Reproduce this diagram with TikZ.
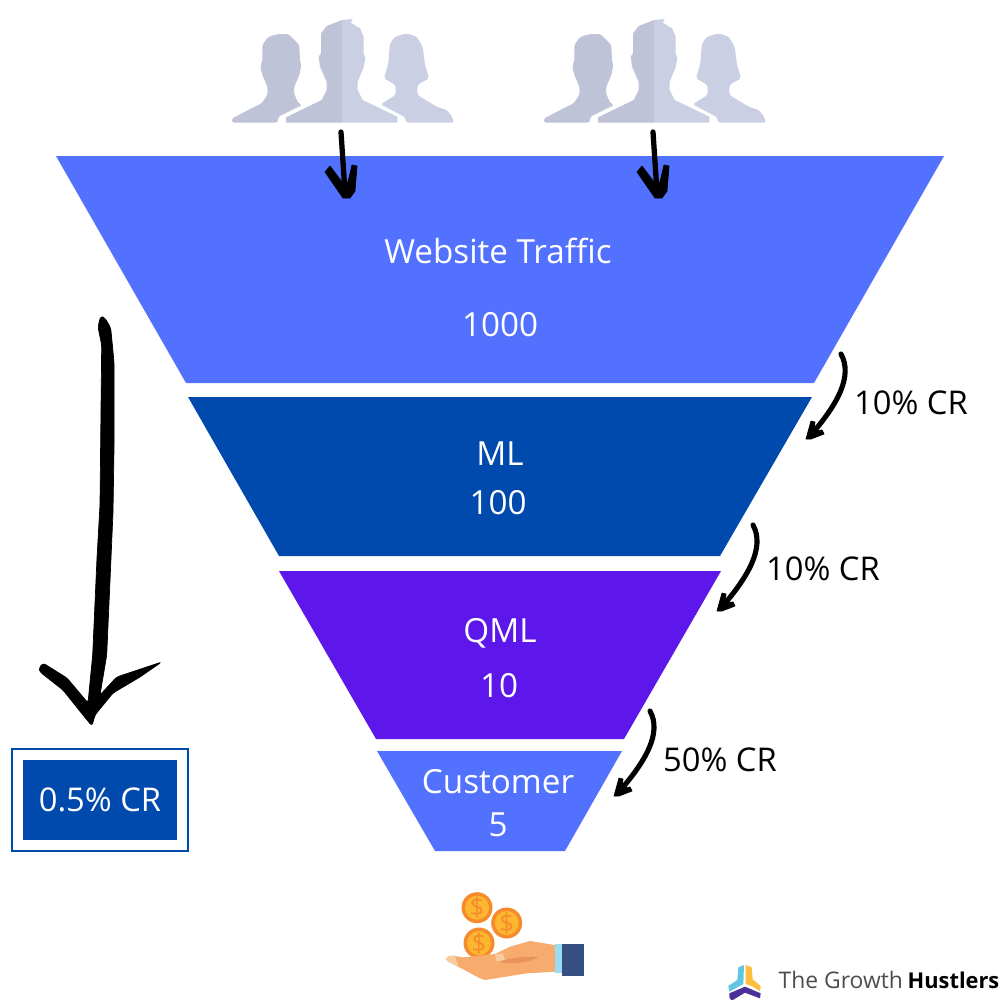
\documentclass[tikz,border=0pt]{standalone}
\usepackage{fontspec}
\usetikzlibrary{calc}
\setmainfont{Open Sans}
\definecolor{fblue}{HTML}{5271FF}
\definecolor{fnavy}{HTML}{004AAD}
\definecolor{fviolet}{HTML}{5E17EB}
\definecolor{pdark}{HTML}{BFC3D8}
\definecolor{plight}{HTML}{CACFE4}
\definecolor{coinO}{HTML}{F58B2C}
\definecolor{coinI}{HTML}{FDB62F}
\definecolor{skin}{HTML}{F7AC6E}
\definecolor{skinD}{HTML}{E8935A}
\definecolor{skinL}{HTML}{F9CBA0}
\definecolor{cuff}{HTML}{9ADCF2}
\definecolor{sleeve}{HTML}{364F82}
\definecolor{logoC}{HTML}{5FC6E0}
\definecolor{logoG}{HTML}{FDBE3C}
\definecolor{logoP}{HTML}{4A2F9A}
\definecolor{logoT}{HTML}{4D4D4D}
\tikzset{
  lab/.style={text=white,font=\fontsize{9.45}{11}\selectfont,inner sep=0pt},
  crlab/.style={text=black,font=\fontsize{9.3}{11}\selectfont,inner sep=0pt},
  curvearrow/.style={draw=black,line width=1.45pt,line cap=round},
  shortarrow/.style={draw=black,line width=1.5pt,line cap=round},
  headfill/.style={fill=black,draw=black,line width=0.2pt,line join=round},
  crowd/.pic={
    \begin{scope}[x=0.01cm/3,y=-0.01cm/3,rounded corners=0.7pt]
    \fill[pdark] (36,338)--(36,325)--(125,280)--(142,255)--(143,232)--(125,190)--(121,165)--(127,155)--(127,105)--(145,80)--(175,72)--(205,72)--(238,105)--(240,155)--(244,165)--(238,195)--(222,232)--(222,250)--(235,280)--(247,285)--(175,320)--(173,338)--cycle;
    \fill[pdark,sharp corners] (198,338)--(198,322)--(305,270)--(320,240)--(320,215)--(300,170)--(296,140)--(303,130)--(303,70)--(320,48)--(366,30)--(366,338)--cycle;
    \fill[plight,sharp corners] (366,30)--(398,27)--(392,38)--(420,55)--(431,80)--(431,130)--(436,145)--(430,175)--(413,215)--(413,240)--(428,270)--(532,320)--(532,338)--(366,338)--cycle;
    \fill[plight] (558,338)--(556,322)--(482,283)--(527,255)--(527,225)--(492,205)--(505,160)--(510,100)--(525,80)--(560,70)--(590,80)--(608,110)--(615,165)--(627,205)--(592,225)--(592,255)--(650,290)--(680,300)--(695,318)--(702,338)--cycle;
    \end{scope}
  },
  coin/.pic={
    \fill[coinO] (0,0) circle (15.5);
    \fill[coinI] (0,0) circle (12);
    \node[text=coinO,font=\fontsize{7.3}{8}\selectfont,inner sep=0pt] at (0,0) {\$};
  }
}
\begin{document}
\begin{tikzpicture}[x=0.01cm,y=-0.01cm]
\useasboundingbox (0,0) rectangle (1000,1000);
\fill[white] (0,0) rectangle (1000,1000);
% people
\pic at (220,10) {crowd};
\pic at (532,10) {crowd};
% funnel
\fill[fblue] (56,156)--(944,156)--(814,383)--(186,383)--cycle;
\fill[fnavy] (188,397)--(812,397)--(720,556)--(279,556)--cycle;
\fill[fviolet] (279,571)--(721,571)--(624,739)--(376,739)--cycle;
\fill[fblue] (377,751)--(622,751)--(565,851)--(435,851)--cycle;
\node[lab] (t1) at (498,251) {Website Traffic};
\node[lab] (n1) at (500,325) {1000};
\node[lab] (t2) at (500,454) {ML};
\node[lab] (n2) at (498,503) {100};
\node[lab] (t3) at (500,633) {QML};
\node[lab] (n3) at (499,686) {10};
\node[lab] (t4) at (498,782) {Customer};
\node[lab] (n4) at (498,825) {5};
% CR labels
\node[crlab] (c1) at (911,403) {10\% CR};
\node[crlab] (c2) at (823,569) {10\% CR};
\node[crlab] (c3) at (720,760) {50\% CR};
% short arrows
\coordinate (s1) at (341,132); \coordinate (e1) at (345,196);
\coordinate (s2) at (653,132); \coordinate (e2) at (657,196);
\foreach \s/\e in {s1/e1,s2/e2}{
  \draw[shortarrow] (\s) -- ($(\e)+(0,-4)$);
  \path[headfill,shift={(\e)}] (-2,2) -- (-20,-24) -- (-15,-30) -- (-3,-14) -- (3,-14) -- (7,-31) -- (12,-30) -- (10,-5) -- (5,2) -- cycle;
}
% curved arrows
\coordinate (a1) at (841,354); \coordinate (b1) at (807,438);
\coordinate (a2) at (753,525); \coordinate (b2) at (718,610);
\coordinate (a3) at (650,711); \coordinate (b3) at (615,795);
\foreach \a/\b in {a1/b1,a2/b2,a3/b3}{
  \draw[curvearrow] (\a) .. controls ($(\a)+(12,22)$) and ($(\b)+(31,-34)$) .. ($(\b)+(3,-2)$);
  \path[headfill,shift={(\b)}] (-1,1) -- (4,-17) -- (8,-16) -- (7,-7) -- (15,-8) -- (17,-4) -- (4,1) -- cycle;
}
% total arrow
\path[headfill,rounded corners=0.8pt] (100.7,316)--(98,327)--(101.7,345)--(100.7,438)--(100,505)--(97,558)--(92.7,655)--(88,703)--(67,678)--(43,663)--(39,668)--(40,672)--(63,690)--(83,715)--(92,726)--(95,715)--(113,693)--(140,677)--(161.7,662)--(116.7,677)--(100,695)--(106.7,655)--(110.7,565)--(113,512)--(114,448)--(114,362)--(110.7,328)--(105,318)--cycle;
% total box
\draw[fnavy,line width=0.6pt] (12,749) rectangle (188,851);
\node[fill=fnavy,text=white,font=\fontsize{9.3}{11}\selectfont,minimum width=1.54cm,minimum height=0.8cm,inner sep=0pt] (total) at (100,800) {\raisebox{-0.5pt}{0.5\% CR}};
% coins and hand
\pic at (477,907.7) {coin};
\pic at (506.7,923) {coin};
\pic at (479,943) {coin};
\begin{scope}[shift={(430,880)},x=0.01cm/3,y=-0.01cm/3]
\fill[skin] (48,238)..controls (50,228) and (60,226)..(75,228)--(100,232)--(195,222)--(240,200)--(300,183)--(375,195)--(375,275)--(290,280)--(165,300)--(150,295)--(100,268)--(55,245)--cycle;
\fill[skinL] (48,238)..controls (50,228) and (60,226)..(75,228)--(85,260)--(55,245)--cycle;
\fill[skinL] (195,224)--(218,220)--(225,240)--(200,245)--cycle;
\fill[skinD] (205,245)..controls (250,255) and (300,245)..(325,232)..controls (290,228) and (250,232)..(225,240)--cycle;
\fill[cuff] (375,192) rectangle (396,280);
\fill[sleeve] (396,192) rectangle (462,288);
\end{scope}
% logo
\begin{scope}[shift={(720,960)},x=0.01cm/3,y=-0.01cm/3]
\fill[logoC] (72,15)--(55,22)--(52,60)--(25,78)--(28,95)--(70,72)--cycle;
\fill[logoG] (77,15)--(95,22)--(98,58)--(122,78)--(120,93)--(95,78)--(77,72)--cycle;
\fill[logoP] (28,100)--(75,80)--(122,100)--(120,115)--(75,98)--(35,122)--(28,112)--cycle;
\end{scope}
\node[anchor=base west,text=logoT,font=\fontsize{6.5}{7}\selectfont,inner sep=0pt] (logoa) at (778,988) {The Growth};
\node[anchor=base west,text=black,font=\fontsize{6.2}{7}\selectfont\bfseries,inner sep=0pt] (logob) at (907,988) {Hustlers};
\end{tikzpicture}
\end{document}
